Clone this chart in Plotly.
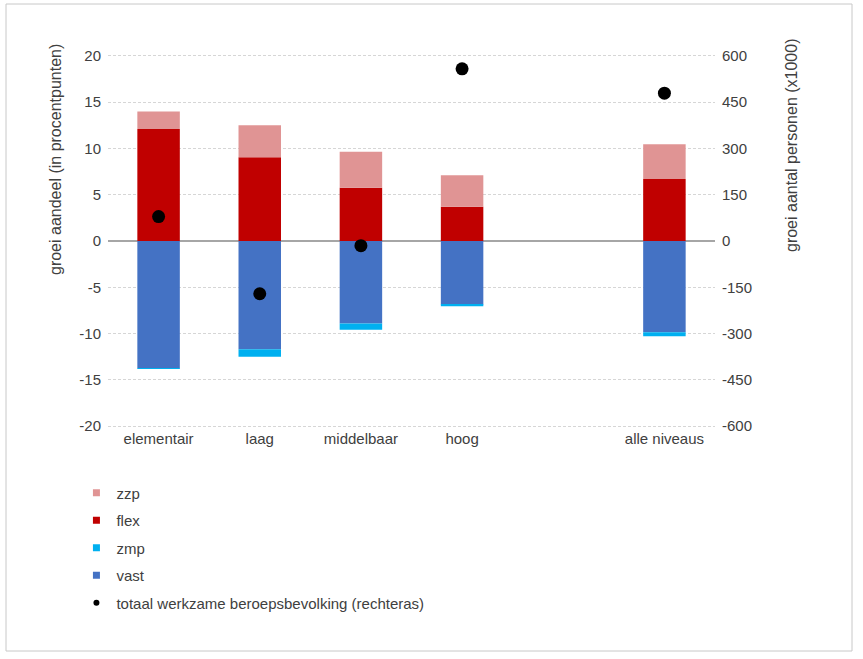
import plotly.graph_objects as go

categories = ["elementair", "laag", "middelbaar", "hoog", " ", "alle niveaus"]
zzp = [1.9, 3.45, 3.9, 3.4, None, 3.75]
flex = [12.1, 9.05, 5.75, 3.7, None, 6.7]
zmp = [-0.05, -0.8, -0.7, -0.2, None, -0.45]
vast = [-13.75, -11.7, -8.9, -6.85, None, -9.85]
totaal = [79, -171, -15, 558, None, 479]

left_ticks = [-20, -15, -10, -5, 0, 5, 10, 15, 20]
left_labels = ["-20", "-15", "-10", "-5", "0", "5", "10", "15", "20"]
right_ticks = [-600, -450, -300, -150, 0, 150, 300, 450, 600]
right_labels = ["-600", "-450", "-300", "-150", "0", "150", "300", "450", "600"]

TXT = "#404040"
FAM = "Liberation Sans, Arial, sans-serif"
col_zzp, col_flex, col_zmp, col_vast = "#E09494", "#C00000", "#00B0F0", "#4472C4"

fig = go.Figure()
fig.add_trace(go.Bar(x=categories, y=flex, name="flex", marker=dict(color=col_flex, line=dict(width=0)), showlegend=False))
fig.add_trace(go.Bar(x=categories, y=zzp, name="zzp", marker=dict(color=col_zzp, line=dict(width=0)), showlegend=False))
fig.add_trace(go.Bar(x=categories, y=vast, name="vast", marker=dict(color=col_vast, line=dict(width=0)), showlegend=False))
fig.add_trace(go.Bar(x=categories, y=zmp, name="zmp", marker=dict(color=col_zmp, line=dict(width=0)), showlegend=False))
fig.add_trace(go.Scatter(x=categories, y=totaal, name="totaal werkzame beroepsbevolking (rechteras)",
                         mode="markers", marker=dict(color="black", size=13), yaxis="y2", showlegend=False))

# legend entries (small square keys as in the original)
legend_items = [("zzp", col_zzp, "square"), ("flex", col_flex, "square"), ("zmp", col_zmp, "square"),
                ("vast", col_vast, "square"), ("totaal werkzame beroepsbevolking (rechteras)", "black", "circle")]
for i, (nm, c, sym) in enumerate(legend_items):
    fig.add_trace(go.Scatter(x=[None], y=[None], mode="markers", name=nm,
                             marker=dict(color=c, symbol=sym, size=7 if sym == "square" else 6),
                             legendgroup="g%d" % i, legendrank=i + 1, showlegend=True))

R = 20.2
PT, PB, PL, PR = 54, 428, 108, 715


def px(x):
    return (x - PL) / (PR - PL)


def py(y):
    return (PB - y) / (PB - PT)


fig.update_layout(
    width=863, height=659,
    barmode="relative", bargap=0.58,
    plot_bgcolor="white", paper_bgcolor="white",
    font=dict(family=FAM, size=15, color=TXT),
    margin=dict(l=PL, r=863 - PR, t=PT, b=659 - PB),
    xaxis=dict(type="category", categoryorder="array", categoryarray=categories,
               showgrid=False, showline=False, ticks="", tickfont=dict(size=15, color=TXT)),
    yaxis=dict(range=[-R, R], tickvals=left_ticks, ticktext=left_labels, showgrid=True, gridcolor="#D6D6D6",
               griddash="3px,2px", gridwidth=1, zeroline=True, zerolinecolor="#A6A6A6", zerolinewidth=2,
               showline=False, ticks="", ticklabelstandoff=6, tickfont=dict(size=15, color=TXT)),
    yaxis2=dict(range=[-R * 30, R * 30], tickvals=right_ticks, ticktext=right_labels, overlaying="y", side="right",
                showgrid=False, zeroline=False, showline=False, ticks="", ticklabelstandoff=6,
                tickfont=dict(size=15, color=TXT)),
    legend=dict(orientation="v", x=-0.052, xanchor="left", y=-0.13, yanchor="top",
                font=dict(size=15, color=TXT), tracegroupgap=5, itemwidth=30,
                bgcolor="rgba(0,0,0,0)"),
    showlegend=True,
    annotations=[
        dict(text="groei aandeel (in procentpunten)", textangle=-90, xref="paper", yref="paper",
             x=px(55), y=py(159), xanchor="center", yanchor="middle", showarrow=False,
             font=dict(size=16, color=TXT)),
        dict(text="groei aantal personen (x1000)", textangle=-90, xref="paper", yref="paper",
             x=px(791), y=py(146), xanchor="center", yanchor="middle", showarrow=False,
             font=dict(size=16, color=TXT)),
    ],
    shapes=[dict(type="rect", xref="paper", yref="paper",
                 x0=px(6), x1=px(852), y0=py(651), y1=py(4),
                 line=dict(color="#C8C8C8", width=1), fillcolor="rgba(0,0,0,0)", layer="below")],
)

fig.write_html("out.html")
